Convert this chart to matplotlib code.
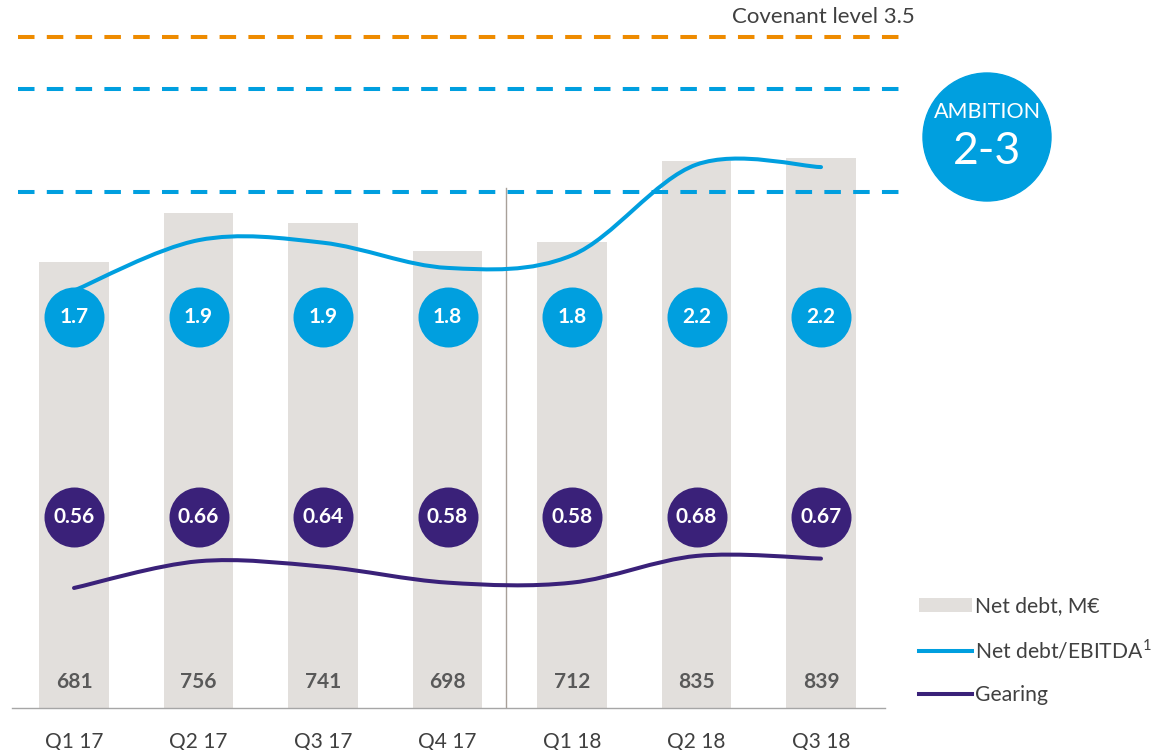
import matplotlib
matplotlib.use("Agg")
import matplotlib.pyplot as plt
from matplotlib.path import Path
from matplotlib.patches import PathPatch, Ellipse, Patch
from matplotlib.lines import Line2D
import numpy as np

# data
quarters = ["Q1 17", "Q2 17", "Q3 17", "Q4 17", "Q1 18", "Q2 18", "Q3 18"]
net_debt = [681, 756, 741, 698, 712, 835, 839]
nd_ebitda = [1.70, 1.90, 1.89, 1.79, 1.84, 2.20, 2.19]
nd_ebitda_labels = ["1.7", "1.9", "1.9", "1.8", "1.8", "2.2", "2.2"]
gearing = [0.56, 0.66, 0.64, 0.58, 0.58, 0.68, 0.67]
ambition_levels = [2, 3]
covenant_level = 3.5

W, H = 1153, 750
BLUE = "#009FDF"
PURPLE = "#3A2179"
ORANGE = "#EE8B00"
BAR_GREY = "#E2DFDC"
TEXT = "#404040"
VALUE = "#595959"

plt.rcParams["font.family"] = ["Lato", "DejaVu Sans"]
plt.rcParams["mathtext.fontset"] = "custom"
plt.rcParams["mathtext.rm"] = "Lato"


def smooth_path(xs, ys):
    """Excel-style smoothed line: catmull-rom segments as cubic beziers"""
    pts = np.column_stack([xs, ys]).astype(float)
    padded = np.vstack([pts[0], pts, pts[-1]])
    verts = [pts[0]]
    codes = [Path.MOVETO]
    for i in range(len(pts) - 1):
        p0, p1, p2, p3 = padded[i], padded[i + 1], padded[i + 2], padded[i + 3]
        verts += [p1 + (p2 - p0) / 6, p2 - (p3 - p1) / 6, p2]
        codes += [Path.CURVE4] * 3
    return Path(verts, codes)


fig = plt.figure(figsize=(W / 100, H / 100), dpi=100)
ax = fig.add_axes([12 / W, 1 - 708 / H, 873 / W, 708 / H])
x = np.arange(len(quarters))

# net debt bars
ax.bar(x, net_debt, width=0.56, color=BAR_GREY, zorder=1)
ax.set_xlim(-0.498, 6.514)
ax.set_ylim(0, 1081)
for s in ["top", "right", "left"]:
    ax.spines[s].set_visible(False)
ax.spines["bottom"].set_color("#A6A6A6")
ax.spines["bottom"].set_linewidth(1)
ax.set_yticks([])
ax.set_xticks(x, quarters)
ax.tick_params(axis="x", length=0, pad=17, labelsize=15, labelcolor=TEXT)
for xi, v in zip(x, net_debt):
    ax.text(xi, 0.037, f"{v}", transform=ax.get_xaxis_transform(), ha="center",
            va="center", fontsize=15, fontweight="bold", color=VALUE)
ax.axvline(3.47, ymin=0, ymax=0.734, color="#A8A099", lw=1, zorder=2)

# reference levels
ax_ref = ax.twinx()
ax_ref.set_ylim(-3.0, 3.859)
ax_ref.set_axis_off()
dash = (0, (4.1, 3.05))
ax_ref.hlines(ambition_levels, -0.45, 6.71, colors=BLUE, lw=2.9, linestyles=dash, clip_on=False)
ax_ref.hlines([covenant_level], -0.45, 6.71, colors=ORANGE, lw=2.9, linestyles=dash, clip_on=False)

# net debt / EBITDA line
ax_nd = ax.twinx()
ax_nd.set_ylim(0.0437, 2.853)
ax_nd.set_axis_off()
ax_nd.add_patch(PathPatch(smooth_path(x, nd_ebitda), fill=False, edgecolor=BLUE,
                          lw=2.9, capstyle="round"))

# gearing line + value bubbles
ax_g = ax.twinx()
ax_g.set_ylim(0.1105, 2.762)
ax_g.set_axis_off()
ax_g.add_patch(PathPatch(smooth_path(x, gearing), fill=False, edgecolor=PURPLE,
                         lw=2.9, capstyle="round"))

tr = ax_g.get_xaxis_transform()
ax_g.scatter(x, [0.552] * len(x), s=1866, color=BLUE, linewidths=0, transform=tr, zorder=5)
ax_g.scatter(x, [0.270] * len(x), s=1866, color=PURPLE, linewidths=0, transform=tr, zorder=5)
for xi, lab, g in zip(x, nd_ebitda_labels, gearing):
    ax_g.text(xi, 0.552, lab, transform=tr, ha="center", va="center", fontsize=15,
              fontweight="bold", color="white", zorder=6)
    ax_g.text(xi, 0.270, f"{g:.2f}", transform=tr, ha="center", va="center", fontsize=15,
              fontweight="bold", color="white", zorder=6)

# ambition bubble and covenant label
fig.add_artist(Ellipse((987 / W, 1 - 137 / H), 128 / W, 128 / H,
                       transform=fig.transFigure, color=BLUE))
fig.text(987 / W, 1 - 112 / H, "AMBITION", ha="center", va="center", fontsize=15.5, color="white")
fig.text(987 / W, 1 - 152 / H, "2-3", ha="center", va="center", fontsize=32, color="white")
fig.text(915 / W, 1 - 17 / H, f"Covenant level {covenant_level}", ha="right", va="center",
         fontsize=16, color=TEXT)

# legend
handles = [Patch(facecolor=BAR_GREY),
           Line2D([], [], color=BLUE, lw=2.9),
           Line2D([], [], color=PURPLE, lw=2.9)]
labels = ["Net debt, M€", "Net debt/EBITDA$^{1}$", "Gearing"]
fig.legend(handles, labels, loc="upper left", bbox_to_anchor=(919 / W, 1 - 596 / H),
           frameon=False, fontsize=15.2, handlelength=2.5, handleheight=0.65,
           handletextpad=0.15, labelspacing=1.07, borderpad=0, borderaxespad=0,
           labelcolor=TEXT)

fig.savefig("out.png", dpi=100)
